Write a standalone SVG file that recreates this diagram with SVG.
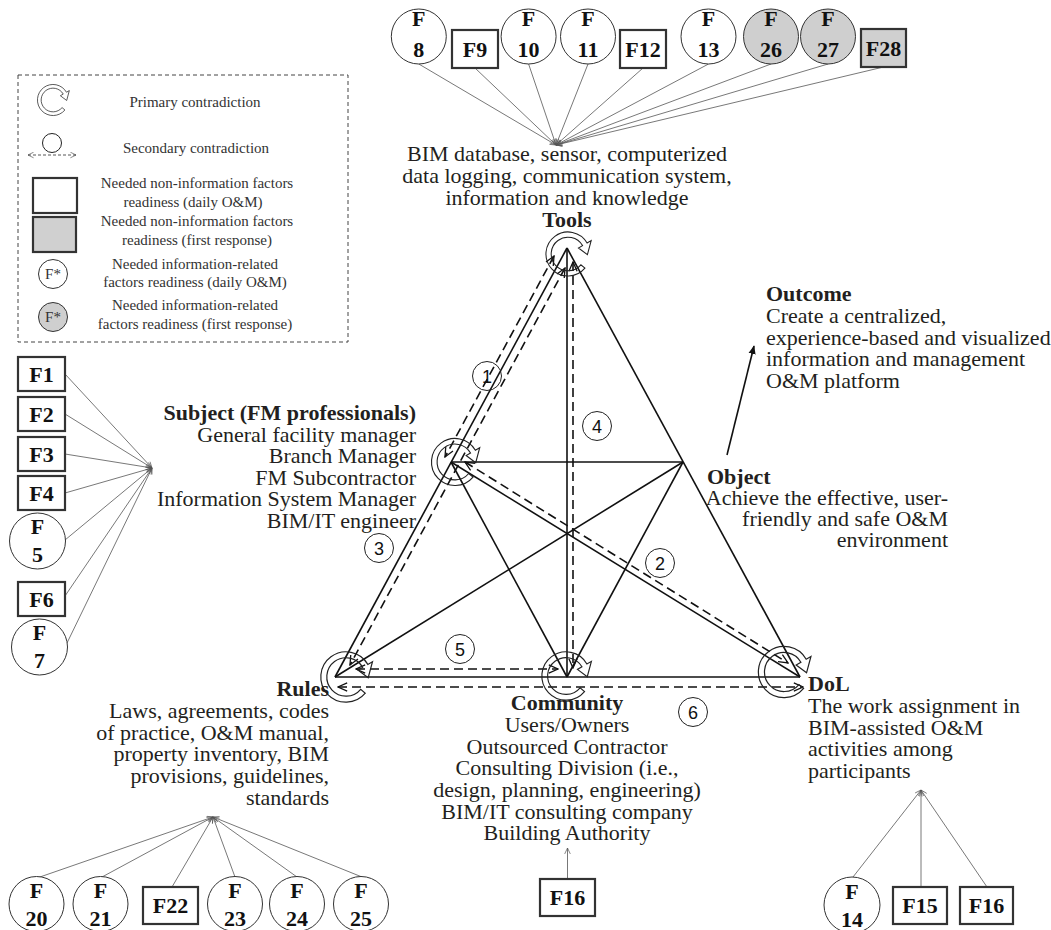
<svg xmlns="http://www.w3.org/2000/svg" xmlns:xlink="http://www.w3.org/1999/xlink" width="1051" height="930" viewBox="0 0 1051 930">
<style>
.t{font-family:"Liberation Serif","Times New Roman",serif;font-size:22px;fill:#231f20}
.b{font-weight:bold}
.lg{font-family:"Liberation Serif","Times New Roman",serif;font-size:15px;fill:#333;text-anchor:middle}
.fl{font-family:"Liberation Serif","Times New Roman",serif;font-weight:bold;font-size:22px;fill:#111;text-anchor:middle}
.num{font-family:"Liberation Sans",Arial,sans-serif;font-size:18px;fill:#111;text-anchor:middle}
.box{fill:#fff;stroke:#333;stroke-width:2.2}
.gbox{fill:#d0d0d0;stroke:#333;stroke-width:2.2}
.circ{fill:#fff;stroke:#333;stroke-width:1}
.gcirc{fill:#cfcfcf;stroke:#333;stroke-width:1}
.ncirc{fill:none;stroke:#222;stroke-width:1}
.fline{stroke:#555;stroke-width:0.8;fill:none;marker-end:url(#open)}
.solid{stroke:#111;stroke-width:1.6;fill:none}
.dash{stroke:#111;stroke-width:1.6;fill:none;stroke-dasharray:9 5;marker-start:url(#dh);marker-end:url(#dh)}
.prim{fill:none;stroke:#222;stroke-width:1}
</style>
<defs>
<marker id="open" viewBox="0 0 10 10" refX="9.5" refY="5" markerWidth="7" markerHeight="7" markerUnits="userSpaceOnUse" orient="auto"><path d="M1,1 L9.5,5 L1,9" fill="none" stroke="#555" stroke-width="1"/></marker>
<marker id="dh" viewBox="0 0 12 12" refX="11" refY="6" markerWidth="11" markerHeight="11" markerUnits="userSpaceOnUse" orient="auto-start-reverse"><path d="M1,1.5 L11,6 L1,10.5" fill="none" stroke="#111" stroke-width="1.4"/></marker>
<marker id="lgh" viewBox="0 0 10 10" refX="9" refY="5" markerWidth="7" markerHeight="7" markerUnits="userSpaceOnUse" orient="auto-start-reverse"><path d="M1,1 L9,5 L1,9" fill="none" stroke="#444" stroke-width="0.9"/></marker>
<marker id="fill" viewBox="0 0 10 10" refX="9" refY="5" markerWidth="9" markerHeight="9" markerUnits="userSpaceOnUse" orient="auto"><path d="M0,1 L10,5 L0,9 z" fill="#111"/></marker>
<path id="prim" d="M16.09,13.5 A21,21 0 1 1 18.19,-10.5 L22.08,-12.75 L18.49,0.65 L9.96,-5.75 L13.86,-8 A16,16 0 1 0 12.26,10.28 Z"/>
</defs>
<rect width="1051" height="930" fill="#fff"/>

<g id="legend">
<rect x="18" y="75" width="330" height="267" fill="none" stroke="#444" stroke-width="1" stroke-dasharray="4 3"/>
<use xlink:href="#prim" class="prim" transform="translate(53,100) scale(0.74)"/>
<text class="lg" x="195" y="107">Primary contradiction</text>
<circle cx="52" cy="143" r="9.5" class="ncirc"/>
<line x1="28" y1="155" x2="76" y2="155" stroke="#444" stroke-width="0.9" stroke-dasharray="3 2" marker-start="url(#lgh)" marker-end="url(#lgh)"/>
<text class="lg" x="196" y="153">Secondary contradiction</text>
<rect x="33" y="178" width="44" height="35" class="box"/>
<text class="lg" x="197" y="188">Needed non-information factors</text>
<text class="lg" x="193" y="207">readiness (daily O&amp;M)</text>
<rect x="33" y="217" width="43" height="35" class="gbox"/>
<text class="lg" x="197" y="226">Needed non-information factors</text>
<text class="lg" x="197" y="245">readiness (first response)</text>
<circle cx="53" cy="274" r="14.5" class="circ"/>
<text x="53" y="279" style="font-family:'Liberation Serif',serif;font-size:15px;fill:#333;text-anchor:middle">F*</text>
<text class="lg" x="195" y="269">Needed information-related</text>
<text class="lg" x="195" y="287">factors readiness (daily O&amp;M)</text>
<circle cx="53" cy="317" r="14.5" class="gcirc"/>
<text x="53" y="322" style="font-family:'Liberation Serif',serif;font-size:15px;fill:#333;text-anchor:middle">F*</text>
<text class="lg" x="195" y="310">Needed information-related</text>
<text class="lg" x="195" y="329">factors readiness (first response)</text>
</g>

<g id="connectors">
<line class="fline" x1="418.8" y1="64" x2="556" y2="145"/>
<line class="fline" x1="475" y1="68" x2="556" y2="145"/>
<line class="fline" x1="528.6" y1="64" x2="556" y2="145"/>
<line class="fline" x1="588" y1="64" x2="556" y2="145"/>
<line class="fline" x1="643" y1="68" x2="556" y2="145"/>
<line class="fline" x1="708.5" y1="64" x2="556" y2="145"/>
<line class="fline" x1="771" y1="64" x2="556" y2="145"/>
<line class="fline" x1="828" y1="64" x2="556" y2="145"/>
<line class="fline" x1="883.5" y1="67" x2="556" y2="145"/>
<line class="fline" x1="65" y1="374" x2="152" y2="468"/>
<line class="fline" x1="65" y1="414" x2="152" y2="468"/>
<line class="fline" x1="65" y1="454" x2="152" y2="468"/>
<line class="fline" x1="65" y1="493" x2="152" y2="468"/>
<line class="fline" x1="65" y1="540" x2="152" y2="468"/>
<line class="fline" x1="65" y1="596" x2="152" y2="468"/>
<line class="fline" x1="67" y1="643" x2="152" y2="468"/>
<line class="fline" x1="37" y1="878" x2="213" y2="817"/>
<line class="fline" x1="102" y1="877" x2="213" y2="817"/>
<line class="fline" x1="172" y1="887" x2="213" y2="817"/>
<line class="fline" x1="235" y1="877" x2="213" y2="817"/>
<line class="fline" x1="297" y1="877" x2="213" y2="817"/>
<line class="fline" x1="362" y1="877" x2="213" y2="817"/>
<line class="fline" x1="567.5" y1="879" x2="567.5" y2="848"/>
<line class="fline" x1="853" y1="877" x2="921" y2="790"/>
<line class="fline" x1="921" y1="887" x2="921" y2="790"/>
<line class="fline" x1="987" y1="887" x2="921" y2="790"/>

<line class="solid" x1="567" y1="248" x2="335" y2="677"/>
<line class="solid" x1="567" y1="248" x2="800" y2="677"/>
<line class="solid" x1="335" y1="677" x2="800" y2="677"/>
<line class="solid" x1="567" y1="248" x2="567" y2="677"/>
<line class="solid" x1="451" y1="462" x2="683" y2="462"/>
<line class="solid" x1="451" y1="462" x2="567" y2="677"/>
<line class="solid" x1="683" y1="462" x2="567" y2="677"/>
<line class="solid" x1="451" y1="462" x2="800" y2="677"/>
<line class="solid" x1="683" y1="462" x2="335" y2="677"/>

<line x1="727" y1="455" x2="754" y2="346" stroke="#111" stroke-width="1.6" marker-end="url(#fill)"/>

<line class="dash" x1="554" y1="256" x2="445" y2="457"/>
<line class="dash" x1="565" y1="268" x2="350" y2="665"/>
<line class="dash" x1="573" y1="262" x2="573" y2="668"/>
<line class="dash" x1="465" y1="462" x2="788" y2="663"/>
<line class="dash" x1="356" y1="669" x2="558" y2="669"/>
<line class="dash" x1="338" y1="687" x2="803" y2="687"/>

<use xlink:href="#prim" class="prim" transform="translate(568,254) scale(1.05)"/>
<use xlink:href="#prim" class="prim" transform="translate(455,462) scale(1.12)"/>
<use xlink:href="#prim" class="prim" transform="translate(346,677) scale(1.2)"/>
<use xlink:href="#prim" class="prim" transform="translate(566,676) scale(1.15)"/>
<use xlink:href="#prim" class="prim" transform="translate(784,672) scale(1.22)"/>

<g id="n1"><circle cx="487" cy="376" r="14.5" class="ncirc"/><text class="num" x="487" y="382.5">1</text></g>
<g id="n2"><circle cx="660" cy="563" r="14.5" class="ncirc"/><text class="num" x="660" y="569.5">2</text></g>
<g id="n3"><circle cx="379" cy="548" r="14.5" class="ncirc"/><text class="num" x="379" y="554.5">3</text></g>
<g id="n4"><circle cx="597" cy="426" r="14.5" class="ncirc"/><text class="num" x="597" y="432.5">4</text></g>
<g id="n5"><circle cx="460" cy="649" r="14.5" class="ncirc"/><text class="num" x="460" y="655.5">5</text></g>
<g id="n6"><circle cx="693" cy="712" r="14.5" class="ncirc"/><text class="num" x="693" y="718.5">6</text></g>
</g>

<g id="tools">
<text class="t" text-anchor="middle"><tspan x="567" y="161">BIM database, sensor, computerized</tspan><tspan x="567" y="183">data logging, communication system,</tspan><tspan x="567" y="205">information and knowledge</tspan><tspan x="567" y="227" class="b">Tools</tspan></text>
</g>
<g id="subject">
<text class="t" text-anchor="end"><tspan x="416" y="420" class="b">Subject (FM professionals)</tspan><tspan x="416" y="441.5">General facility manager</tspan><tspan x="416" y="463">Branch Manager</tspan><tspan x="416" y="484.5">FM Subcontractor</tspan><tspan x="416" y="506">Information System Manager</tspan><tspan x="416" y="527.5">BIM/IT engineer</tspan></text>
</g>
<g id="object">
<text class="t b" x="707" y="484">Object</text>
<text class="t" text-anchor="end"><tspan x="948" y="505">Achieve the effective, user-</tspan><tspan x="948" y="526">friendly and safe O&amp;M</tspan><tspan x="948" y="547">environment</tspan></text>
</g>
<g id="outcome">
<text class="t"><tspan x="766" y="301" class="b">Outcome</tspan><tspan x="766" y="323">Create a centralized,</tspan><tspan x="766" y="345">experience-based and visualized</tspan><tspan x="766" y="366">information and management</tspan><tspan x="766" y="388">O&amp;M platform</tspan></text>
</g>
<g id="rules">
<text class="t" text-anchor="end"><tspan x="329" y="696" class="b">Rules</tspan><tspan x="329" y="718">Laws, agreements, codes</tspan><tspan x="329" y="740">of practice, O&amp;M manual,</tspan><tspan x="329" y="761">property inventory, BIM</tspan><tspan x="329" y="783">provisions, guidelines,</tspan><tspan x="329" y="805">standards</tspan></text>
</g>
<g id="community">
<text class="t" text-anchor="middle"><tspan x="567" y="710" class="b">Community</tspan><tspan x="567" y="732">Users/Owners</tspan><tspan x="567" y="754">Outsourced Contractor</tspan><tspan x="567" y="775">Consulting Division (i.e.,</tspan><tspan x="567" y="797">design, planning, engineering)</tspan><tspan x="567" y="819">BIM/IT consulting company</tspan><tspan x="567" y="840">Building Authority</tspan></text>
</g>
<g id="dol">
<text class="t"><tspan x="808" y="691" class="b">DoL</tspan><tspan x="808" y="713">The work assignment in</tspan><tspan x="808" y="735">BIM-assisted O&amp;M</tspan><tspan x="808" y="756">activities among</tspan><tspan x="808" y="778">participants</tspan></text>
</g>

<g id="F8"><circle cx="418.8" cy="36.5" r="27.5" class="circ"/><text class="fl" x="418.8" y="26">F</text><text class="fl" x="418.8" y="57">8</text></g>
<g id="F9"><rect x="452" y="30" width="46" height="38" class="box"/><text class="fl" x="475" y="57">F9</text></g>
<g id="F10"><circle cx="528.6" cy="36.5" r="27.5" class="circ"/><text class="fl" x="528.6" y="26">F</text><text class="fl" x="528.6" y="57">10</text></g>
<g id="F11"><circle cx="588" cy="36.5" r="27.5" class="circ"/><text class="fl" x="588" y="26">F</text><text class="fl" x="588" y="57">11</text></g>
<g id="F12"><rect x="620" y="30" width="46" height="38" class="box"/><text class="fl" x="643" y="57">F12</text></g>
<g id="F13"><circle cx="708.5" cy="36.5" r="27.5" class="circ"/><text class="fl" x="708.5" y="26">F</text><text class="fl" x="708.5" y="57">13</text></g>
<g id="F26"><circle cx="771" cy="36.5" r="27.5" class="gcirc"/><text class="fl" x="771" y="26">F</text><text class="fl" x="771" y="57">26</text></g>
<g id="F27"><circle cx="828" cy="36.5" r="27.5" class="gcirc"/><text class="fl" x="828" y="26">F</text><text class="fl" x="828" y="57">27</text></g>
<g id="F28"><rect x="861" y="29" width="45" height="38" class="gbox"/><text class="fl" x="883.5" y="56">F28</text></g>

<g id="F1"><rect x="18" y="357" width="47" height="34" class="box"/><text class="fl" x="41.5" y="382">F1</text></g>
<g id="F2"><rect x="18" y="397" width="47" height="34" class="box"/><text class="fl" x="41.5" y="422">F2</text></g>
<g id="F3"><rect x="18" y="437" width="47" height="34" class="box"/><text class="fl" x="41.5" y="462">F3</text></g>
<g id="F4"><rect x="18" y="476" width="47" height="34" class="box"/><text class="fl" x="41.5" y="501">F4</text></g>
<g id="F5"><circle cx="37.5" cy="541" r="28" class="circ"/><text class="fl" x="37.5" y="534">F</text><text class="fl" x="37.5" y="562">5</text></g>
<g id="F6"><rect x="18" y="582" width="47" height="34" class="box"/><text class="fl" x="41.5" y="607">F6</text></g>
<g id="F7"><circle cx="39.5" cy="647" r="28" class="circ"/><text class="fl" x="39.5" y="640">F</text><text class="fl" x="39.5" y="668">7</text></g>

<g id="F20"><circle cx="36.5" cy="904" r="27.5" class="circ"/><text class="fl" x="36.5" y="898">F</text><text class="fl" x="36.5" y="926">20</text></g>
<g id="F21"><circle cx="100.5" cy="904" r="27.5" class="circ"/><text class="fl" x="100.5" y="898">F</text><text class="fl" x="100.5" y="926">21</text></g>
<g id="F22"><rect x="143" y="887" width="55" height="37" class="box"/><text class="fl" x="170.5" y="913">F22</text></g>
<g id="F23"><circle cx="235" cy="904" r="27.5" class="circ"/><text class="fl" x="235" y="898">F</text><text class="fl" x="235" y="926">23</text></g>
<g id="F24"><circle cx="297" cy="904" r="27.5" class="circ"/><text class="fl" x="297" y="898">F</text><text class="fl" x="297" y="926">24</text></g>
<g id="F25"><circle cx="361" cy="904" r="27.5" class="circ"/><text class="fl" x="361" y="898">F</text><text class="fl" x="361" y="926">25</text></g>

<g id="F16c"><rect x="540" y="879" width="55" height="37" class="box"/><text class="fl" x="567.5" y="905">F16</text></g>

<g id="F14"><circle cx="852" cy="905" r="28" class="circ"/><text class="fl" x="852" y="899">F</text><text class="fl" x="852" y="927">14</text></g>
<g id="F15"><rect x="893" y="887" width="54" height="37" class="box"/><text class="fl" x="920" y="913">F15</text></g>
<g id="F16d"><rect x="960" y="887" width="53" height="37" class="box"/><text class="fl" x="986.5" y="913">F16</text></g>
</svg>
